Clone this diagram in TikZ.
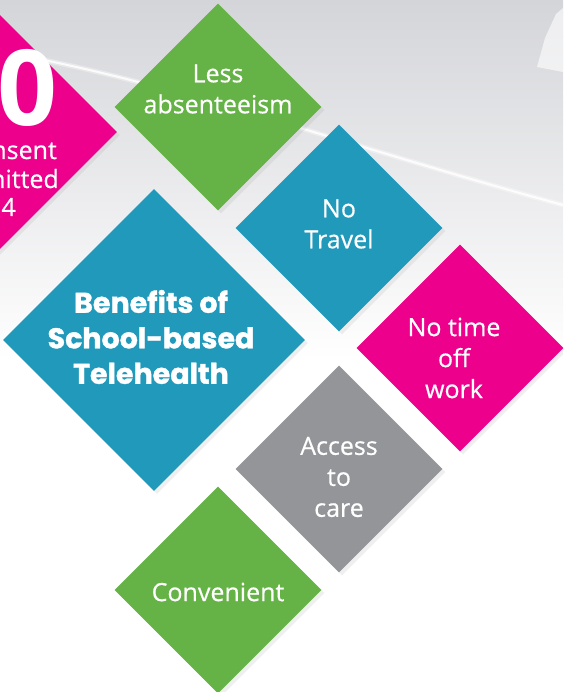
\documentclass[tikz,border=0pt]{standalone}
\usepackage{fontspec}
\setmainfont{Open Sans}[UprightFeatures={FakeBold=0.5}]
\newfontfamily\headfont{Poppins}[BoldFeatures={FakeBold=1.3}]
\usetikzlibrary{shapes.geometric, shadows}

\definecolor{tileGreen}{RGB}{101,178,70}
\definecolor{tileBlue}{RGB}{32,153,187}
\definecolor{tileMagenta}{RGB}{236,0,140}
\definecolor{tileGray}{RGB}{147,149,152}
\definecolor{skyGray}{RGB}{212,213,217}

\begin{document}
\begin{tikzpicture}[
    x=1pt, y=-1pt,
    every node/.style={inner sep=0pt, text=white, align=center},
    tile/.style={shape=diamond, aspect=1, minimum size=207pt,
        drop shadow={opacity=0.12, shadow xshift=3pt, shadow yshift=-3pt}},
    caption/.style={font=\fontsize{25}{31}\selectfont},
    headline/.style={font=\headfont\bfseries\fontsize{28.5}{35.5}\selectfont},
    ]

    \clip (0,0) rectangle (563,692);
    \fill[white] (0,0) rectangle (563,692);
    \shade[top color=skyGray, bottom color=white] (0,0) rectangle (563,360);
    \draw[white, line width=5pt, opacity=0.35] (0,52) .. controls (160,78) and (360,150) .. (563,205);
    \draw[white, line width=2pt, opacity=0.85] (0,52) .. controls (160,78) and (360,150) .. (563,205);
    \fill[white, opacity=0.6] (537,67) -- (545,38) -- (556,14) -- (563,8) -- (563,72) -- cycle;

    \node[tile, fill=tileMagenta, minimum size=294pt] (stat) at (-30,132) {};
    \node[tile, fill=tileGreen] (absent) at (218,107) {};
    \node[tile, fill=tileBlue] (travel) at (339,228) {};
    \node[tile, fill=tileMagenta] (work) at (460,348) {};
    \node[tile, fill=tileGray] (access) at (339,469) {};
    \node[tile, fill=tileGreen] (convenient) at (218,590) {};
    \node[tile, fill=tileBlue, minimum size=302pt] (benefits) at (154,340) {};

    \node[anchor=base east, font=\bfseries\fontsize{105}{105}\selectfont] (stat-num) at (58,126) {0};
    \node[anchor=base east, caption] (stat-l1) at (57,159) {nsent};
    \node[anchor=base east, caption] (stat-l2) at (59,188) {nitted};
    \node[anchor=base east, caption] (stat-l3) at (16,216) {4};

    \node[caption] (absent-text) at (218,89) {Less\\absenteeism};
    \node[caption] (travel-text) at (339,224) {No\\Travel};
    \node[caption] (work-text) at (454,358) {No time\\off\\work};
    \node[caption] (access-text) at (339,477) {Access\\to\\care};
    \node[caption] (convenient-text) at (218,592) {Convenient};
    \node[headline] (benefits-text) at (151,337) {Benefits of\\School-based\\Telehealth};
\end{tikzpicture}
\end{document}
